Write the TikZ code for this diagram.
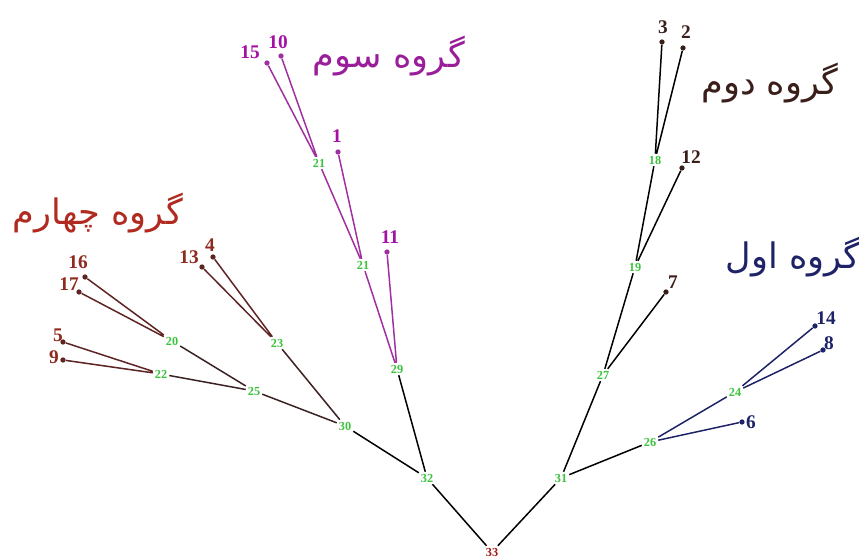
\documentclass[tikz,border=0pt]{standalone}
\usepackage{fontspec}
\setmainfont{Liberation Serif}
\newfontfamily\arabicfont[Script=Arabic]{DejaVu Sans}
\TeXXeTstate=1
\usepackage{tikz}
\usetikzlibrary{positioning}
\definecolor{fourc}{HTML}{B02A20}
\definecolor{fourn}{HTML}{8E2A1E}
\definecolor{fourl}{HTML}{5E2424}
\definecolor{fourd}{HTML}{3A2222}
\definecolor{threec}{HTML}{9A1E9A}
\definecolor{threen}{HTML}{A310A3}
\definecolor{threel}{HTML}{A030A0}
\definecolor{twoc}{HTML}{3A1E1A}
\definecolor{onec}{HTML}{1E2266}
\definecolor{nodec}{HTML}{3CC23C}
\definecolor{rootc}{HTML}{A01818}
\tikzset{
  br/.style={line width=0.85pt},
  leaf/.style={circle,fill,inner sep=0pt,minimum size=3pt},
  ind/.style={text=nodec,font=\fontsize{7}{7}\selectfont\bfseries,inner sep=1pt},
  num/.style={font=\fontsize{11}{11}\selectfont\bfseries,inner sep=0pt},
  grp/.style={font=\arabicfont\fontsize{20}{24}\selectfont,inner sep=0pt}
}

\begin{document}
\begin{tikzpicture}[x=0.2mm,y=-0.2mm]
\useasboundingbox (0,0) rectangle (859,557);
% inner nodes
\foreach \n/\x/\y/\t in {n32/427/478/32,n31/561/478/31,n30/345/426/30,n29/397/369/29,
  n27/603/375/27,n26/650/442/26,n25/254/391/25,n24/735/392/24,n23/277/343/23,
  n22/161/374/22,n21a/363/265/21,n21b/319/163/21,n20/172/341/20,n19/635/267/19,n18/655/160/18}
  {\node[ind] (\n) at (\x,\y) {\t};}
\node[ind,text=rootc] (n33) at (492,552) {33};
% leaves
\foreach \n/\x/\y/\lx/\ly in {16/85/277/78/262,17/79/292/69/284,5/63/342/58/335,
  9/63/360/54/357,13/202/267/189/257,4/213/257/210/245}
  {\node[leaf,fourl] (l\n) at (\x,\y) {}; \node[num,fourn] (t\n) at (\lx,\ly) {\n};}
\foreach \n/\x/\y/\lx/\ly in {15/267/63/250/52,10/281/56/278/42,1/338/152/337/136,11/387/252/390/237}
  {\node[leaf,threel] (l\n) at (\x,\y) {}; \node[num,threen] (t\n) at (\lx,\ly) {\n};}
\foreach \n/\x/\y/\lx/\ly in {3/662/42/663/27,2/683/48/686/32,12/682/168/691/157,7/666/292/673/282}
  {\node[leaf,twoc] (l\n) at (\x,\y) {}; \node[num,twoc] (t\n) at (\lx,\ly) {\n};}
\foreach \n/\x/\y/\lx/\ly in {14/815/326/826/318,8/823/350/829/343,6/742/422/751/422}
  {\node[leaf,onec] (l\n) at (\x,\y) {}; \node[num,onec] (t\n) at (\lx,\ly) {\n};}
% branches
\draw[br] (n33)--(n32) (n33)--(n31) (n32)--(n30) (n32)--(n29) (n31)--(n27) (n31)--(n26)
  (n27)--(n19) (n27)--(l7) (n19)--(n18) (n19)--(l12) (n18)--(l3) (n18)--(l2);
\draw[br,fourd] (n30)--(n25) (n30)--(n23) (n25)--(n20) (n25)--(n22);
\draw[br,fourl] (n20)--(l16) (n20)--(l17) (n22)--(l5) (n22)--(l9) (n23)--(l13) (n23)--(l4);
\draw[br,threel] (n29)--(n21a) (n29)--(l11) (n21a)--(n21b) (n21a)--(l1) (n21b)--(l15) (n21b)--(l10);
\draw[br,onec] (n26)--(n24) (n26)--(l6) (n24)--(l14) (n24)--(l8);
% group titles
\node[grp,fourc] (g4) at (98,213) {\beginR گروه چهارم\endR};
\node[grp,threec] (g3) at (389,56) {\beginR گروه سوم\endR};
\node[grp,twoc] (g2) at (770,83) {\beginR گروه دوم\endR};
\node[grp,onec,anchor=east] (g1) at (861,257) {\beginR گروه اول\endR};
\end{tikzpicture}
\end{document}
